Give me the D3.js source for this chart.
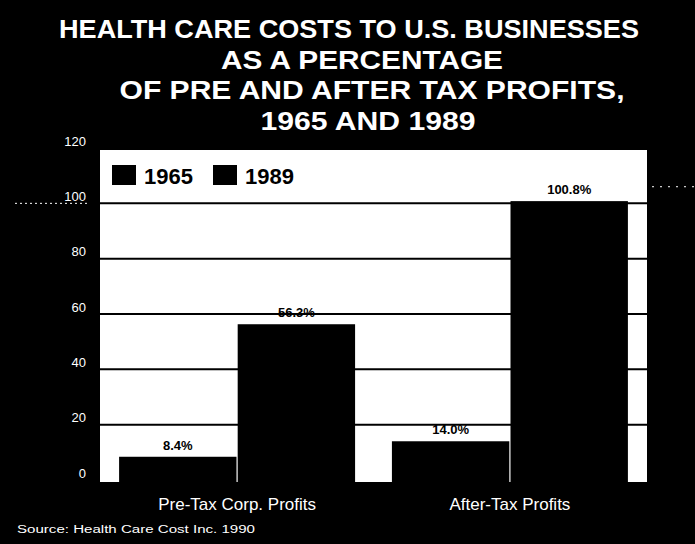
<!DOCTYPE html>
<html><head><meta charset="utf-8">
<script src="https://cdn.jsdelivr.net/npm/d3@7"></script>
<style>body{margin:0;background:#000;} svg{display:block}</style>
</head><body><svg id="c" width="695" height="544"></svg>
<script>
const titleLines = ["HEALTH CARE COSTS TO U.S. BUSINESSES", "AS A PERCENTAGE", "OF PRE AND AFTER TAX PROFITS,", "1965 AND 1989"];
const categories = ["Pre-Tax Corp. Profits", "After-Tax Profits"];
const years = ["1965", "1989"];
const values1965 = [8.4, 14.0];
const values1989 = [56.3, 100.8];
const yTicks = [0, 20, 40, 60, 80, 100, 120];
const sourceText = "Source: Health Care Cost Inc. 1990";

const svg = d3.select("#c");
const W = 695, H = 544;
svg.append("rect").attr("width", W).attr("height", H).attr("fill", "#000");

const plot = {left: 100, right: 647, top: 148, bottom: 480};
const y = d3.scaleLinear().domain([0, 120]).range([plot.bottom, plot.top]);
const x = d3.scaleBand().domain(categories).range([plot.left, plot.right]).paddingInner(0.135).paddingOuter(0.07);
const xi = d3.scaleBand().domain(years).range([0, x.bandwidth()]).paddingInner(0.01);

// Title
const titleGeom = [{cx: 349, w: 580}, {cx: 362, w: 282}, {cx: 372, w: 505}, {cx: 368, w: 215}];
const tg = svg.append("g").attr("fill", "#fff").attr("font-family", "Liberation Sans, Arial, sans-serif")
  .attr("font-weight", "bold").attr("font-size", 26).attr("text-anchor", "middle");
titleLines.forEach((t, i) => {
  tg.append("text").attr("x", titleGeom[i].cx).attr("y", 38 + i * 30.5)
    .attr("textLength", titleGeom[i].w).attr("lengthAdjust", "spacingAndGlyphs").text(t);
});

// plot background
svg.append("rect").attr("x", plot.left).attr("y", plot.top + 2).attr("width", plot.right - plot.left)
  .attr("height", plot.bottom - plot.top).attr("fill", "#fff");

// gridlines
svg.append("g").selectAll("line").data(yTicks.filter(t => t > 0 && t < 120)).join("line")
  .attr("x1", plot.left).attr("x2", plot.right)
  .attr("y1", d => y(d)).attr("y2", d => y(d))
  .attr("stroke", "#000").attr("stroke-width", 2);

// y axis labels
const ax = svg.append("g").attr("transform", `translate(${plot.left - 14},0)`)
  .call(d3.axisLeft(y).tickValues(yTicks).tickSize(0).tickPadding(0));
ax.select(".domain").remove();
ax.selectAll("text").attr("fill", "#fff").attr("font-size", 13)
  .attr("font-family", "Liberation Sans Narrow, Liberation Sans, Arial, sans-serif")
  .attr("transform", "translate(0,-7)");

// bars
const rows = categories.map((c, i) => ({cat: c, vals: [{year: years[0], v: values1965[i]}, {year: years[1], v: values1989[i]}]}));
const groups = svg.append("g").selectAll("g").data(rows).join("g")
  .attr("transform", d => `translate(${x(d.cat)},0)`);
groups.selectAll("rect").data(d => d.vals).join("rect")
  .attr("x", d => xi(d.year)).attr("width", xi.bandwidth())
  .attr("y", d => y(d.v)).attr("height", d => y(0) - y(d.v) + 3)
  .attr("fill", "#000");
groups.selectAll("text").data(d => d.vals).join("text")
  .attr("x", d => xi(d.year) + xi.bandwidth() / 2)
  .attr("y", d => y(d.v) - 7)
  .attr("text-anchor", "middle").attr("font-size", 13).attr("font-weight", "bold")
  .attr("font-family", "Liberation Sans, Arial, sans-serif").attr("fill", "#000")
  .text(d => d.v.toFixed(1) + "%");

// legend
const lg = svg.append("g").attr("font-family", "Liberation Sans, Arial, sans-serif").attr("font-weight", "bold").attr("font-size", 22);
const legendX = [112, 213];
years.forEach((yr, i) => {
  lg.append("rect").attr("x", legendX[i]).attr("y", 165).attr("width", 24).attr("height", 20).attr("fill", "#000");
  lg.append("text").attr("x", legendX[i] + 32).attr("y", 184).attr("fill", "#000").text(yr);
});

// category labels
svg.append("g").selectAll("text").data(categories).join("text")
  .attr("x", d => x(d) + x.bandwidth() / 2).attr("y", 510)
  .attr("text-anchor", "middle").attr("fill", "#fff").attr("font-size", 17)
  .attr("font-family", "Liberation Sans Narrow, Liberation Sans, Arial, sans-serif")
  .text(d => d);

// source
svg.append("text").attr("x", 17).attr("y", 533).attr("fill", "#fff").attr("font-size", 10)
  .attr("textLength", 238).attr("lengthAdjust", "spacingAndGlyphs")
  .attr("font-family", "Liberation Sans Narrow, Liberation Sans, Arial, sans-serif").text(sourceText);

// scan artifact dotted rules
svg.append("line").attr("x1", 15).attr("x2", 90).attr("y1", y(100)).attr("y2", y(100))
  .attr("stroke", "#fff").attr("stroke-width", 1).attr("stroke-dasharray", "2,3");
svg.append("line").attr("x1", 652).attr("x2", 695).attr("y1", y(106)).attr("y2", y(106))
  .attr("stroke", "#fff").attr("stroke-width", 1).attr("stroke-dasharray", "2,6");
</script></body></html>
